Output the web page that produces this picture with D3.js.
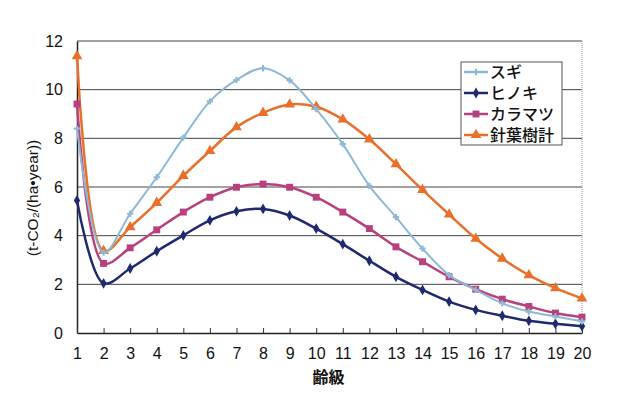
<!DOCTYPE html>
<html>
<head>
<meta charset="utf-8">
<script src="https://cdn.jsdelivr.net/npm/d3@7"></script>
<style>
  body { margin: 0; background: #fff; }
  text { fill: #111; }
</style>
</head>
<body>
<div id="chart"></div>
<script>
// Data
const ageClasses = d3.range(1, 21);
const yTicks = [0, 2, 4, 6, 8, 10, 12];
const seriesNames = ['スギ', 'ヒノキ', 'カラマツ', '針葉樹計'];
const sugi = [8.4, 3.3, 4.9, 6.4, 8.03, 9.52, 10.4, 10.88, 10.38, 9.2, 7.76, 6.05, 4.76, 3.47, 2.38, 1.77, 1.22, 0.88, 0.68, 0.48];
const hinoki = [5.45, 2.04, 2.65, 3.36, 4.01, 4.63, 5.0, 5.1, 4.83, 4.29, 3.65, 2.97, 2.31, 1.77, 1.29, 0.95, 0.71, 0.5, 0.38, 0.28];
const karamatsu = [9.41, 2.86, 3.5, 4.24, 4.97, 5.58, 5.99, 6.12, 5.99, 5.58, 4.97, 4.29, 3.54, 2.93, 2.31, 1.8, 1.39, 1.09, 0.82, 0.65];
const total = [11.38, 3.37, 4.35, 5.35, 6.46, 7.48, 8.46, 9.05, 9.39, 9.3, 8.78, 7.96, 6.94, 5.88, 4.87, 3.88, 3.06, 2.38, 1.84, 1.42];

const colors = ['#8db9d6', '#1f2a6e', '#b8417d', '#e8702a'];
const markers = [d3.symbolCross, d3.symbolDiamond, d3.symbolSquare, d3.symbolTriangle];
const markerSizes = [22, 34, 48, 50];

// Set graph sizes
const margin = { top: 41, right: 58, bottom: 66, left: 77 };
const width = 640 - margin.left - margin.right;
const height = 399 - margin.top - margin.bottom;

const svg = d3.select('#chart')
  .append('svg')
  .attr('width', 640)
  .attr('height', 399)
  .append('g')
  .attr('transform', `translate(${margin.left},${margin.top})`);

const x = d3.scaleLinear().domain([1, 20]).range([0, width]);
const y = d3.scaleLinear().domain([0, 12]).range([height, 0]);

// horizontal grid
svg.append('g')
  .selectAll('line')
  .data(yTicks.slice(1))
  .join('line')
  .attr('x1', 0)
  .attr('x2', width)
  .attr('y1', (d) => y(d))
  .attr('y2', (d) => y(d))
  .attr('stroke', '#444')
  .attr('stroke-width', 1);

// right border
svg.append('line')
  .attr('x1', width).attr('x2', width)
  .attr('y1', 0).attr('y2', height)
  .attr('stroke', '#999')
  .attr('stroke-dasharray', '1,1');

// y-axis
const yAxis = svg.append('g')
  .call(d3.axisLeft(y).tickValues(yTicks).tickSize(0).tickPadding(14));
yAxis.select('.domain').attr('stroke', '#222').attr('stroke-width', 1.5);
yAxis.selectAll('text')
  .attr('font-family', 'Liberation Sans, Arial, sans-serif')
  .attr('font-size', 16);

// x-axis
const xAxis = svg.append('g')
  .attr('transform', `translate(0,${height})`)
  .call(d3.axisBottom(x).tickValues(ageClasses).tickFormat(d3.format('d'))
    .tickSizeInner(-5).tickSizeOuter(0).tickPadding(15));
xAxis.select('.domain').attr('stroke', '#222').attr('stroke-width', 1.5);
xAxis.selectAll('.tick line').attr('stroke', '#333');
xAxis.selectAll('text')
  .attr('font-family', 'Liberation Sans, Arial, sans-serif')
  .attr('font-size', 16);

// axis titles
svg.append('text')
  .attr('x', width / 2 - 1)
  .attr('y', height + 50)
  .attr('text-anchor', 'middle')
  .attr('font-family', 'Noto Sans CJK JP')
  .attr('font-weight', 'bold')
  .attr('font-size', 16)
  .text('齢級');

svg.append('text')
  .attr('transform', `translate(${-39},${157}) rotate(-90)`)
  .attr('text-anchor', 'middle')
  .attr('font-family', 'Liberation Sans, Arial, sans-serif')
  .attr('font-size', 15.5)
  .text('(t-CO₂/(ha•year))');

// lines
const allSeries = [sugi, hinoki, karamatsu, total];
const line = d3.line()
  .x((d, i) => x(ageClasses[i]))
  .y((d) => y(d))
  .curve(d3.curveCatmullRom.alpha(0.5));

const drawOrder = [3, 2, 1, 0];
drawOrder.forEach((s) => {
  const g = svg.append('g');
  g.append('path')
    .datum(allSeries[s])
    .attr('fill', 'none')
    .attr('stroke', colors[s])
    .attr('stroke-width', s === 0 ? 2 : 2.5)
    .attr('d', line);
  g.selectAll('path.m')
    .data(allSeries[s])
    .join('path')
    .attr('class', 'm')
    .attr('transform', (d, i) => `translate(${x(ageClasses[i])},${y(d)})`)
    .attr('d', d3.symbol().type(markers[s]).size(markerSizes[s]))
    .attr('fill', colors[s]);
});

// legend
const legend = svg.append('g')
  .attr('transform', `translate(${461 - margin.left},${62 - margin.top})`);
legend.append('rect')
  .attr('width', 101)
  .attr('height', 83)
  .attr('fill', '#fff')
  .attr('stroke', '#555');
seriesNames.forEach((name, i) => {
  const row = legend.append('g')
    .attr('transform', `translate(0,${10 + i * 21})`);
  row.append('line')
    .attr('x1', 3).attr('x2', 27)
    .attr('stroke', colors[i])
    .attr('stroke-width', 2.5);
  row.append('path')
    .attr('transform', 'translate(15,0)')
    .attr('d', d3.symbol().type(markers[i]).size(markerSizes[i]))
    .attr('fill', colors[i]);
  row.append('text')
    .attr('x', 29)
    .attr('dy', '0.36em')
    .attr('font-family', 'Noto Sans CJK JP')
    .attr('font-weight', 500)
    .attr('font-size', 16)
    .text(name);
});
</script>
</body>
</html>
